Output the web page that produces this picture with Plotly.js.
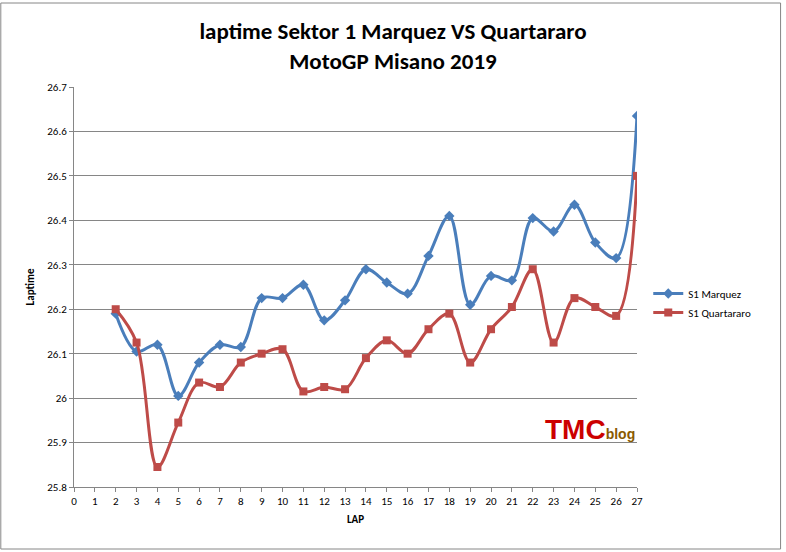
<!DOCTYPE html>
<html><head><script src="https://cdn.plot.ly/plotly-3.0.1.min.js"></script>
<style>body{margin:0}#c{width:786px;height:552px}</style></head>
<body><div id="c"></div>
<script>
const laps=[2,3,4,5,6,7,8,9,10,11,12,13,14,15,16,17,18,19,20,21,22,23,24,25,26,27];
const marquez=[26.19,26.105,26.12,26.005,26.08,26.12,26.115,26.225,26.225,26.255,26.175,26.22,26.29,26.26,26.235,26.32,26.41,26.21,26.275,26.265,26.405,26.375,26.435,26.35,26.315,26.635];
const quartararo=[26.20,26.125,25.845,25.945,26.035,26.025,26.08,26.10,26.11,26.015,26.025,26.02,26.09,26.13,26.10,26.155,26.19,26.08,26.155,26.205,26.29,26.125,26.225,26.205,26.185,26.50];
const f={family:'Calibri, Carlito, "Liberation Sans", sans-serif'};
Plotly.newPlot('c',[
{x:laps,y:marquez,name:'S1 Marquez',mode:'lines+markers',line:{shape:'spline',color:'#4a7ebb',width:3},marker:{symbol:'diamond',size:8,color:'#4a7ebb'}},
{x:laps,y:quartararo,name:'S1 Quartararo',mode:'lines+markers',line:{shape:'spline',color:'#be4b48',width:3},marker:{symbol:'square',size:8,color:'#be4b48'}}
],{
width:786,height:552,margin:{l:74,r:149,t:87,b:65},
paper_bgcolor:'white',plot_bgcolor:'white',font:{...f,size:11,color:'#000'},
title:{text:'<b>laptime Sektor 1 Marquez VS Quartararo<br>MotoGP Misano 2019</b>',font:{...f,size:23},x:0.5,xanchor:'center',y:0.93},
xaxis:{range:[0,27],dtick:1,tick0:0,showgrid:false,showline:true,linecolor:'#868686',ticks:'outside',ticklen:4,tickcolor:'#868686',zeroline:false,
 title:{text:'<b>LAP</b>',font:{...f,size:11},standoff:8}},
yaxis:{range:[25.8,26.7],dtick:0.1,showgrid:true,gridcolor:'#868686',showline:true,linecolor:'#868686',ticks:'outside',ticklen:4,tickcolor:'#868686',zeroline:false,
 title:{text:'<b>Laptime</b>',font:{...f,size:11},standoff:10}},
legend:{x:1.02,y:0.46,xanchor:'left',yanchor:'middle',font:{...f,size:11},bgcolor:'rgba(0,0,0,0)'},
shapes:[{type:'rect',xref:'paper',yref:'paper',x0:-0.13,x1:1.255,y0:-0.155,y1:1.21,line:{color:'#868686',width:1}}],
annotations:[{xref:'paper',yref:'paper',x:1.0,y:0.1,text:'<span style="color:#c00"><b>TMC</b></span><span style="color:#8a5a00;font-size:14px"><b>blog</b></span>',showarrow:false,font:{family:'"Liberation Sans"',size:28}}]
},{displayModeBar:false});
</script></body></html>
